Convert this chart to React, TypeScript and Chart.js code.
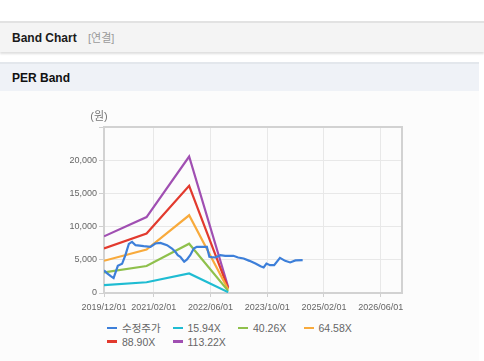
import React, { useEffect, useRef } from "react";
import { Chart, registerables } from "chart.js";

Chart.register(...registerables);

// ---------- data ----------
const PRICE_DATES = [
  "2019/12/01", "2020/01/01", "2020/02/01", "2020/02/22", "2020/03/28", "2020/05/04",
  "2020/06/02", "2020/07/01", "2020/07/28", "2020/08/28", "2020/11/07", "2021/01/04",
  "2021/02/15", "2021/03/28", "2021/05/24", "2021/07/06", "2021/08/04", "2021/08/25",
  "2021/09/16", "2021/10/19", "2021/11/13", "2021/12/10", "2022/01/10", "2022/02/06",
  "2022/05/01", "2022/05/22", "2022/06/12", "2022/07/12", "2022/08/25", "2022/10/06",
  "2022/12/15", "2023/01/25", "2023/03/12", "2023/05/01", "2023/06/22", "2023/08/05",
  "2023/09/01", "2023/09/25", "2023/10/25", "2023/11/30", "2024/01/19", "2024/03/03",
  "2024/04/15", "2024/05/30", "2024/08/01",
];
const PRICE_VALUES = [
  3400, 2900, 2500, 2250, 4100, 4400,
  5700, 7400, 7700, 7200, 7050, 6950,
  7450, 7550, 7200, 6700, 6200, 5700,
  5450, 4700, 5050, 5700, 6700, 6950,
  6950, 5450, 5400, 5350, 5700, 5600,
  5600, 5340, 5190, 4840, 4440, 4040,
  3850, 4440, 4190, 4200, 5300, 4840,
  4600, 4900, 4950,
];

const BAND_DATES = ["2019/12/01", "2020/12/01", "2021/12/01", "2022/11/01"];
const BAND_15_94 = [1200, 1620, 2950, 130];
const BAND_40_26 = [3100, 4060, 7420, 320];
const BAND_64_58 = [4850, 6540, 11700, 520];
const BAND_88_90 = [6700, 8960, 16150, 710];
const BAND_113_22 = [8530, 11430, 20550, 900];

const SERIES_NAMES = ["수정주가", "15.94X", "40.26X", "64.58X", "88.90X", "113.22X"];
const SERIES_COLORS = ["#3d7fd9", "#1fbcd2", "#8fc04c", "#f8aa3c", "#e23a2e", "#a04fb2"];

const X_MIN_DATE = "2019/12/01";
const X_MAX_DATE = "2026/12/01";
const X_TICK_DATES = ["2019/12/01", "2021/02/01", "2022/06/01", "2023/10/01", "2025/02/01", "2026/06/01"];
const Y_MAX = 25000;
const Y_STEP = 5000;
const Y_UNIT = "(원)";

// ---------- helpers ----------
const FONT = "'Liberation Sans', 'Noto Sans CJK KR', Arial, sans-serif";

function monthIndex(d: string): number {
  const [y, m, day] = d.split("/").map(Number);
  return (y - 2019) * 12 + (m - 12) + (day - 1) / 30;
}

function toPoints(dates: string[], values: number[]) {
  return dates.map((d, i) => ({ x: monthIndex(d), y: values[i] }));
}

const fmt = (v: number) => v.toString().replace(/\B(?=(\d{3})+(?!\d))/g, ",");

const framePlugin = {
  id: "frame",
  beforeDatasetsDraw(chart: any) {
    const { ctx, chartArea: a } = chart;
    ctx.save();
    ctx.strokeStyle = "#d2d2d2";
    ctx.lineWidth = 2;
    ctx.strokeRect(a.left, a.top, a.right - a.left, a.bottom - a.top);
    ctx.restore();
  },
  afterDraw(chart: any) {
    const { ctx, chartArea: a } = chart;
    ctx.save();
    ctx.fillStyle = "#777";
    ctx.font = `11px ${FONT}`;
    ctx.textAlign = "center";
    ctx.textBaseline = "middle";
    ctx.fillText(Y_UNIT, a.left - 5, a.top - 10.5);
    ctx.restore();
  },
};

export default function App() {
  const canvasRef = useRef<HTMLCanvasElement | null>(null);

  useEffect(() => {
    document.body.style.margin = "0";
    const series = [
      toPoints(PRICE_DATES, PRICE_VALUES),
      toPoints(BAND_DATES, BAND_15_94),
      toPoints(BAND_DATES, BAND_40_26),
      toPoints(BAND_DATES, BAND_64_58),
      toPoints(BAND_DATES, BAND_88_90),
      toPoints(BAND_DATES, BAND_113_22),
    ];
    const xTickValues = X_TICK_DATES.map(monthIndex);
    const chart = new Chart(canvasRef.current as HTMLCanvasElement, {
      type: "line",
      data: {
        datasets: series.map((pts, i) => ({
          label: SERIES_NAMES[i],
          data: pts,
          borderColor: SERIES_COLORS[i],
          backgroundColor: SERIES_COLORS[i],
          borderWidth: 2.2,
          pointRadius: 0,
          tension: 0,
          fill: false,
        })),
      },
      options: {
        animation: false,
        responsive: true,
        maintainAspectRatio: false,
        layout: { padding: { left: 0, right: 82, top: 32, bottom: 0 } },
        plugins: { legend: { display: false }, tooltip: { enabled: false } },
        scales: {
          x: {
            type: "linear",
            min: monthIndex(X_MIN_DATE),
            max: monthIndex(X_MAX_DATE),
            afterBuildTicks: (s: any) => {
              s.ticks = xTickValues.map((v) => ({ value: v }));
            },
            afterFit: (s: any) => {
              s.height = 22;
            },
            border: { display: false },
            grid: { color: "#e8e8e8", lineWidth: 1, tickColor: "#cfcfcf", tickLength: 4 },
            ticks: {
              autoSkip: false,
              maxRotation: 0,
              padding: 5,
              color: "#666",
              font: { size: 9, family: FONT },
              callback: (_v: any, i: number) => X_TICK_DATES[i],
            },
          },
          y: {
            min: 0,
            max: Y_MAX,
            afterFit: (s: any) => {
              s.width = 104;
            },
            border: { display: false },
            grid: { color: "#e8e8e8", lineWidth: 1, tickColor: "#cfcfcf", tickLength: 5 },
            ticks: {
              stepSize: Y_STEP,
              padding: 2,
              color: "#666",
              font: { size: 9, family: FONT },
              callback: (v: any) => (Number(v) >= Y_MAX ? "" : fmt(Number(v))),
            },
          },
        },
      },
      plugins: [framePlugin],
    } as any);
    return () => chart.destroy();
  }, []);

  const legendCols = [107, 172.5, 238, 303.5];
  const legendRows = [327.8, 341.5];

  return (
    <div style={{ position: "absolute", left: 0, top: 0, width: 484, height: 361, background: "#fff", fontFamily: FONT, overflow: "hidden" }}>
      <div
        style={{
          position: "absolute", left: 0, top: 21, width: 484, height: 29,
          borderTop: "2px solid #e2e2e2", background: "#f4f4f4",
          boxShadow: "0 2px 2px rgba(0,0,0,0.13)",
        }}
      >
        <span style={{ position: "absolute", left: 12, top: 0, lineHeight: "31px", fontSize: 12, fontWeight: "bold", color: "#1a1a1a" }}>Band Chart</span>
        <span style={{ position: "absolute", left: 88, top: 0, lineHeight: "31px", fontSize: 11, color: "#9a9a9a" }}>[연결]</span>
      </div>
      <div style={{ position: "absolute", left: 0, top: 91, width: 479, height: 270, background: "#fcfcfc" }} />
      <div
        style={{
          position: "absolute", left: 0, top: 62, width: 479, height: 27,
          borderTop: "2px solid #e3e7ec", background: "#eff2f7",
        }}
      >
        <span style={{ position: "absolute", left: 12, top: 0, lineHeight: "28px", fontSize: 12, fontWeight: "bold", color: "#111" }}>PER Band</span>
      </div>
      <div style={{ position: "absolute", left: 0, top: 95, width: 484, height: 220 }}>
        <canvas ref={canvasRef} />
      </div>
      {SERIES_NAMES.map((name, i) => {
        const left = legendCols[i % 4];
        const cy = legendRows[Math.floor(i / 4)];
        return (
          <div key={name} style={{ position: "absolute", left, top: cy - 7, height: 14, display: "flex", alignItems: "center", whiteSpace: "nowrap" }}>
            <span style={{ display: "inline-block", width: 10, height: 2.5, background: SERIES_COLORS[i], marginRight: 5 }} />
            <span style={{ fontSize: 10.5, color: "#666", lineHeight: "14px" }}>{name}</span>
          </div>
        );
      })}
    </div>
  );
}
